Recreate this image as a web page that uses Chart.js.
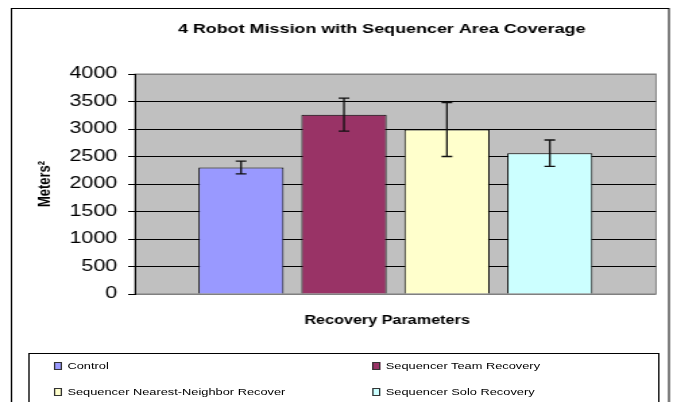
<!DOCTYPE html>
<html>
<head>
<meta charset="utf-8">
<script src="https://cdn.jsdelivr.net/npm/chart.js@4/dist/chart.umd.min.js"></script>
<style>
  html, body { margin: 0; padding: 0; background: #fff; overflow: hidden; }
  /* le graphique d'origine est étiré horizontalement, on fait pareil */
  #wrap { position: relative; width: 499px; height: 402px; transform: scaleX(1.3487); transform-origin: 0 0; }
  #legend { position: absolute; left: 21px; top: 353px; width: 468px; height: 80px; border: 1px solid #000; box-sizing: border-box;
            font-family: "Liberation Sans", Arial, sans-serif; font-size: 9.5px; color: #000; }
  .item { position: absolute; white-space: nowrap; line-height: 12px; }
  .item i { display: inline-block; width: 4px; height: 6px; border: 1px solid #333; margin-right: 4px; vertical-align: -1px; }
</style>
</head>
<body>
<div id="wrap">
  <canvas id="chart" width="499" height="402"></canvas>
  <div id="legend"></div>
</div>
<script>
// Données
const seriesNames = ['Control', 'Sequencer Team Recovery', 'Sequencer Nearest-Neighbor Recover', 'Sequencer Solo Recovery'];
const meanValues = [2300, 3260, 2990, 2560];
const errorValues = [115, 300, 490, 240];
const seriesColors = ['#9999ff', '#993366', '#ffffcc', '#ccffff'];
const categories = [''];
const chartTitle = '4 Robot Mission with Sequencer Area Coverage';
const xTitle = 'Recovery Parameters';

// Fond gris de la zone de tracé + cadre extérieur
const backgroundPlugin = {
    id: 'background',
    beforeDraw(chart) {
        const { ctx, chartArea: a } = chart;
        ctx.save();
        ctx.fillStyle = '#fff';
        ctx.fillRect(0, 0, chart.width, chart.height);
        ctx.strokeStyle = '#000';
        ctx.lineWidth = 1;
        ctx.strokeRect(8.5, 8.5, 487.5, 500);
        ctx.fillStyle = '#c0c0c0';
        ctx.fillRect(a.left, a.top, a.right - a.left, a.bottom - a.top);
        ctx.strokeStyle = '#808080';
        ctx.strokeRect(a.left, a.top, a.right - a.left, a.bottom - a.top);
        ctx.restore();
    }
};

// Titres placés comme sur l'original (pas centrés sur tout le canvas)
const titlesPlugin = {
    id: 'titles',
    afterDraw(chart) {
        const { ctx } = chart;
        ctx.save();
        ctx.fillStyle = '#000';
        ctx.textAlign = 'center';
        ctx.textBaseline = 'middle';
        ctx.font = 'bold 13.3px "Liberation Sans", Arial';
        ctx.fillText(chartTitle, 283, 29.5);
        ctx.font = 'bold 12px "Liberation Sans", Arial';
        ctx.fillText(xTitle, 287, 321);
        ctx.restore();
    }
};

// Barres d'erreur (Chart.js n'en a pas)
const errorBarPlugin = {
    id: 'errorBars',
    afterDatasetsDraw(chart) {
        const { ctx } = chart;
        const y = chart.scales.y;
        ctx.save();
        ctx.strokeStyle = '#111';
        ctx.lineWidth = 1.3;
        chart.data.datasets.forEach((ds, i) => {
            const bar = chart.getDatasetMeta(i).data[0];
            const top = y.getPixelForValue(meanValues[i] + errorValues[i]);
            const bottom = y.getPixelForValue(meanValues[i] - errorValues[i]);
            const x = bar.x, w = 4;
            ctx.beginPath();
            ctx.moveTo(x, top); ctx.lineTo(x, bottom);
            ctx.moveTo(x - w, top); ctx.lineTo(x + w, top);
            ctx.moveTo(x - w, bottom); ctx.lineTo(x + w, bottom);
            ctx.stroke();
        });
        ctx.restore();
    }
};

const ctx = document.getElementById('chart').getContext('2d');
new Chart(ctx, {
    type: 'bar',
    data: {
        labels: categories,
        datasets: seriesNames.map((name, i) => ({
            label: name,
            data: [meanValues[i]],
            backgroundColor: seriesColors[i],
            borderColor: '#000',
            borderWidth: 1,
            categoryPercentage: 0.79,
            barPercentage: 0.828
        }))
    },
    options: {
        responsive: false,
        animation: false,
        devicePixelRatio: 1,
        layout: { padding: { left: 0, right: 12.6, top: 74, bottom: 108 } },
        plugins: {
            legend: { display: false },
            tooltip: { enabled: false },
            title: { display: false }
        },
        scales: {
            x: {
                grid: { display: false },
                border: { display: false },
                ticks: { display: false },
                afterFit(scale) { scale.height = 0; }
            },
            y: {
                min: 0,
                max: 4000,
                ticks: {
                    stepSize: 500,
                    color: '#000',
                    padding: 8,
                    font: { family: '"Liberation Sans", Arial', size: 16 },
                    callback: v => String(v)
                },
                grid: {
                    color: c => (c.tick && (c.tick.value === 0 || c.tick.value === 4000)) ? '#808080' : '#000',
                    tickColor: '#000',
                    tickLength: 5,
                    lineWidth: 1
                },
                border: { display: true, color: '#000', width: 1 },
                title: {
                    display: true,
                    text: 'Meters²',
                    color: '#000',
                    font: { family: '"Liberation Sans", Arial', size: 13, weight: 'bold' },
                    padding: { top: 25.6, bottom: 0 }
                },
                afterFit(scale) { scale.width = 100; }
            }
        }
    },
    plugins: [backgroundPlugin, errorBarPlugin, titlesPlugin]
});

// Légende HTML en deux colonnes
const legendPos = [[18, 6], [254, 6], [18, 32], [254, 32]];
const legendEl = document.getElementById('legend');
seriesNames.forEach((name, i) => {
    const d = document.createElement('div');
    d.className = 'item';
    d.style.left = legendPos[i][0] + 'px';
    d.style.top = legendPos[i][1] + 'px';
    d.innerHTML = '<i style="background:' + seriesColors[i] + '"></i>' + name;
    legendEl.appendChild(d);
});
</script>
</body>
</html>
